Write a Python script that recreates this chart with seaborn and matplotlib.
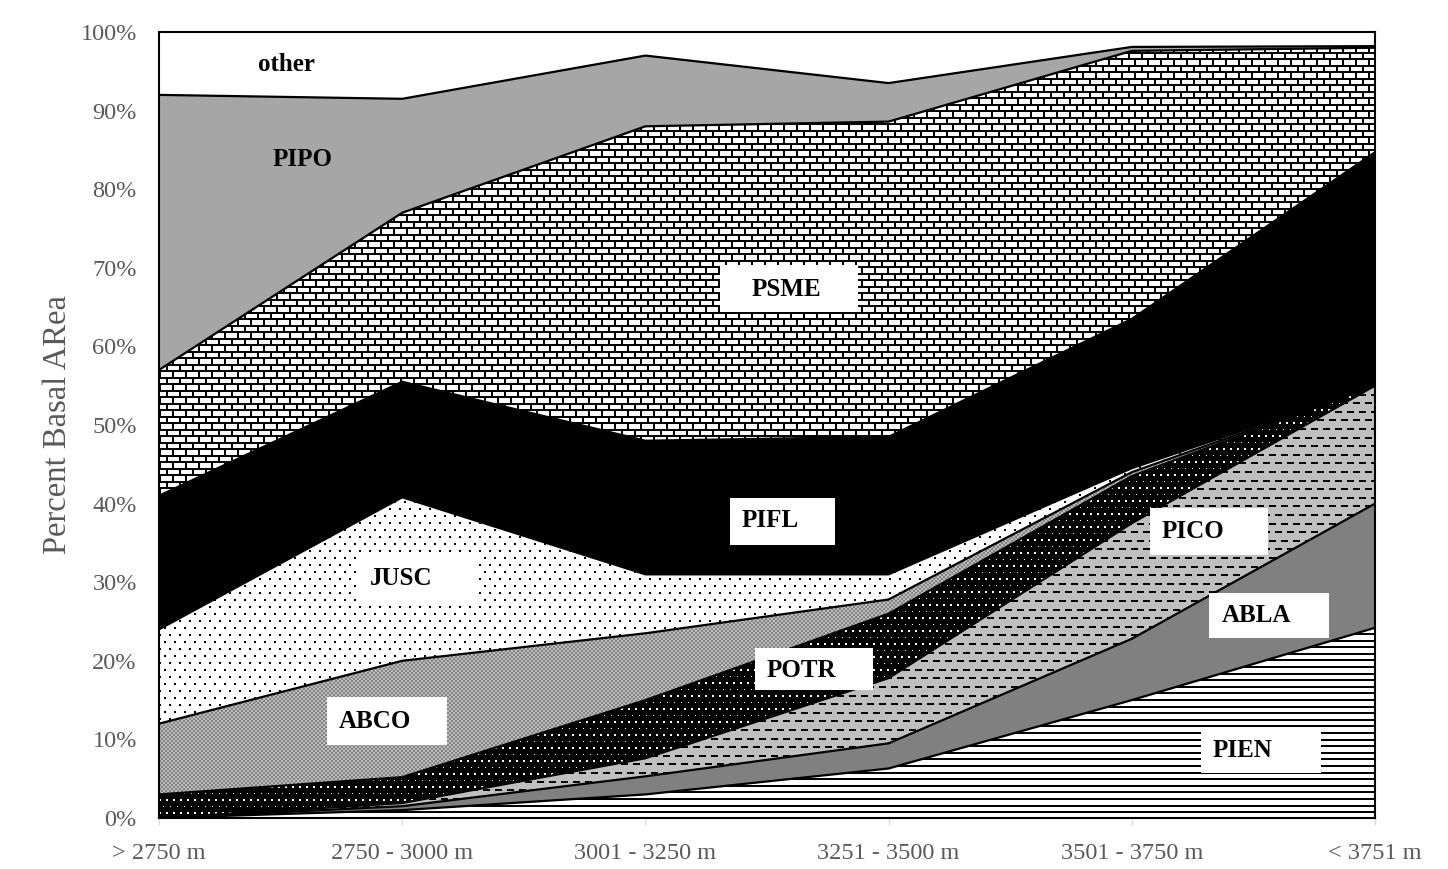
import numpy as np
import pandas as pd
import matplotlib.pyplot as plt
import seaborn as sns
from matplotlib.patches import Rectangle

# 고도 구간 (x축)
ELEVATIONS = ["> 2750 m", "2750 - 3000 m", "3001 - 3250 m",
              "3251 - 3500 m", "3501 - 3750 m", "< 3751 m"]

# 수종별 기저면적 비율 (%) - 아래에서 위로 쌓임
PIEN = [0.0, 1.0, 3.0, 6.3, 15.0, 24.2]
ABLA = [0.0, 0.5, 2.3, 3.2, 7.8, 15.8]
PICO = [0.0, 0.4, 2.3, 8.3, 14.7, 15.0]
POTR = [3.0, 3.3, 7.4, 8.2, 6.0, 0.0]
ABCO = [9.0, 14.8, 8.5, 1.8, 0.5, 0.0]
JUSC = [12.0, 20.8, 7.5, 3.2, 0.5, 0.0]
PIFL = [17.0, 14.7, 17.0, 17.5, 19.0, 29.7]
PSME = [16.0, 21.5, 40.0, 40.1, 34.1, 13.3]
PIPO = [35.0, 14.5, 9.0, 4.9, 0.5, 0.2]
OTHER = [8.0, 8.5, 3.0, 6.5, 1.9, 1.8]

SPECIES = ["PIEN", "ABLA", "PICO", "POTR", "ABCO", "JUSC", "PIFL", "PSME", "PIPO", "other"]
SERIES = [PIEN, ABLA, PICO, POTR, ABCO, JUSC, PIFL, PSME, PIPO, OTHER]

# 채우기 스타일: 단색 or 패턴
FILLS = {
    "PIEN": "hlines", "ABLA": "#808080", "PICO": "dash", "POTR": "dots_w",
    "ABCO": "checker", "JUSC": "dots_b", "PIFL": "#000000", "PSME": "brick",
    "PIPO": "#a6a6a6", "other": "#ffffff",
}

# 라벨 (텍스트, x, y, 흰 박스 [x0, y0, w, h])
LABELS = [
    ("other", 0.407, 95.9, None),
    ("PIPO", 0.469, 83.8, None),
    ("PSME", 2.438, 67.3, (2.307, 64.4, 0.567, 6.0)),
    ("PIFL", 2.397, 37.8, (2.348, 34.7, 0.432, 6.0)),
    ("JUSC", 0.868, 30.5, (0.818, 27.6, 0.494, 5.9)),
    ("ABCO", 0.740, 12.3, (0.691, 9.3, 0.493, 6.1)),
    ("POTR", 2.500, 18.8, (2.451, 16.3, 0.485, 5.3)),
    ("PICO", 4.124, 36.4, (4.075, 33.5, 0.485, 5.9)),
    ("ABLA", 4.371, 25.8, (4.317, 22.9, 0.494, 5.7)),
    ("PIEN", 4.334, 8.65, (4.285, 5.73, 0.493, 5.72)),
]

W_PX, H_PX = 1216, 786


def texture(kind, h, w):
    yy, xx = np.mgrid[0:h, 0:w].astype(float)
    img = np.ones((h, w))
    if kind == "hlines":
        img[(yy % 6.6) < 2] = 0
    elif kind == "dash":
        img[:] = 0.75
        row = np.floor(yy / 8.6)
        img[((yy % 8.6) < 2) & (((xx + 6 * (row % 2)) % 12) < 6.5)] = 0
    elif kind == "dots_w":
        img[:] = 0
        row = np.floor(yy / 6.5)
        img[((yy % 6.5) < 1.5) & (((xx + 3.5 * (row % 2)) % 7) < 1.5)] = 1
    elif kind == "dots_b":
        row = np.floor(yy / 7)
        img[((yy % 7) < 2) & (((xx + 5 * (row % 2)) % 10) < 2)] = 0
    elif kind == "checker":
        # 1px 체커는 모아레가 생겨서 2px 블록으로
        cell = (np.floor(xx / 2) + np.floor(yy / 2)) % 2
        img = np.where(cell == 0, 0.52, 0.74)
    elif kind == "brick":
        row = np.floor(yy / 6.5)
        mortar = ((yy % 6.5) < 1.6) | (((xx + 6.5 * (row % 2)) % 13) < 1.6)
        img[mortar] = 0
    return np.dstack([img] * 3)


sns.set_style("white")
plt.rcParams["font.family"] = ["Liberation Serif", "DejaVu Serif"]

fig = plt.figure(figsize=(14.48, 8.69), dpi=100)
ax = fig.add_axes([159 / 1448, 51 / 869, W_PX / 1448, H_PX / 869])

x = np.arange(len(ELEVATIONS))
tops = np.cumsum(np.array(SERIES), axis=0)
bottoms = np.vstack([np.zeros(len(x)), tops[:-1]])

for name, lo, hi in zip(SPECIES, bottoms, tops):
    fill = FILLS[name]
    if fill.startswith("#"):
        ax.fill_between(x, lo, hi, facecolor=fill, edgecolor="none", zorder=1)
    else:
        poly = ax.fill_between(x, lo, hi, facecolor="none", edgecolor="none", zorder=1)
        im = ax.imshow(texture(fill, H_PX, W_PX), extent=(0, 5, 0, 100),
                       aspect="auto", interpolation="nearest", zorder=1)
        im.set_clip_path(poly.get_paths()[0], ax.transData)

# 경계선
bounds = pd.DataFrame([
    {"species": n, "pos": xi, "cum": v}
    for n, row in zip(SPECIES[:-1], tops[:-1]) for xi, v in zip(x, row)
])
sns.lineplot(data=bounds, x="pos", y="cum", units="species", estimator=None,
             color="black", linewidth=1.6, legend=False, ax=ax, zorder=3)

for text, tx, ty, box in LABELS:
    if box is not None:
        ax.add_patch(Rectangle((box[0], box[1]), box[2], box[3],
                               facecolor="white", edgecolor="none", zorder=4))
    ax.text(tx, ty, text, ha="left", va="center", fontsize=18,
            fontweight="bold", color="black", zorder=5)

ax.set_xlim(0, 5)
ax.set_ylim(0, 100)
ax.set_xticks(x, ELEVATIONS)
ax.set_yticks(range(0, 101, 10), [f"{v}%" for v in range(0, 101, 10)])
ax.tick_params(axis="x", bottom=True, length=5, width=1, color="#d9d9d9",
               pad=13, labelsize=17.5, labelcolor="#595959")
ax.tick_params(axis="y", left=False, length=0, pad=16, labelsize=17.5,
               labelcolor="#595959")
ax.set_xlabel("")
ax.set_ylabel("Percent Basal ARea", fontsize=23.5, color="#595959", labelpad=5)

for sp in ax.spines.values():
    sp.set_visible(True)
    sp.set_color("black")
    sp.set_linewidth(1.5)
    sp.set_zorder(6)

fig.savefig("out.png", dpi=100)
